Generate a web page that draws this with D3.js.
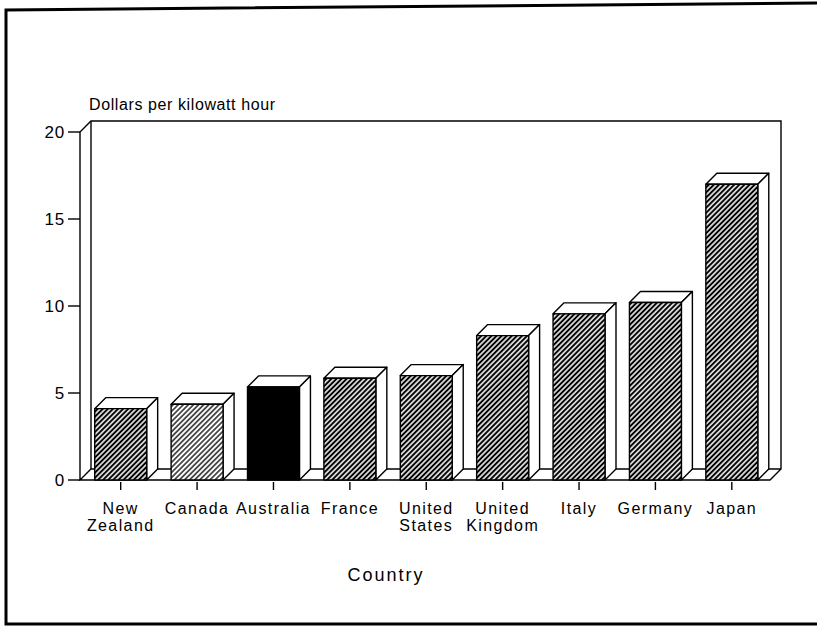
<!DOCTYPE html>
<html>
<head>
<meta charset="utf-8">
<script src="https://cdn.jsdelivr.net/npm/d3@7"></script>
<style>
  html, body { margin: 0; padding: 0; background: #fff; }
  svg { display: block; }
  text { font-family: "Liberation Sans", Arial, Helvetica, sans-serif; fill: #000; }
</style>
</head>
<body>
<svg id="chart" width="817" height="626"></svg>
<script>
// Electricity cost by country, dollars per kilowatt hour
const countries = ["New Zealand", "Canada", "Australia", "France", "United States",
                   "United Kingdom", "Italy", "Germany", "Japan"];
const countryLabels = [["New", "Zealand"], ["Canada"], ["Australia"], ["France"],
                       ["United", "States"], ["United", "Kingdom"], ["Italy"], ["Germany"], ["Japan"]];
const costs = [4.1, 4.35, 5.35, 5.85, 6.0, 8.3, 9.55, 10.2, 17.0];
const yTicks = [0, 5, 10, 15, 20];
const yTitle = "Dollars per kilowatt hour";
const xTitle = "Country";

const svg = d3.select("#chart");

// depth offset of the pseudo-3D box and bars
const DX = 11, DY = 11;

const x = d3.scaleBand().domain(countries).range([82.5, 770]).paddingInner(0.32).paddingOuter(0.16);
const y = d3.scaleLinear().domain([0, 20]).range([480, 132]);

const defs = svg.append("defs");
function hatch(id, w) {
  const p = defs.append("pattern").attr("id", id)
    .attr("patternUnits", "userSpaceOnUse").attr("width", 3.6).attr("height", 3.6)
    .attr("patternTransform", "rotate(45)");
  p.append("rect").attr("width", 3.6).attr("height", 3.6).attr("fill", "#fff");
  p.append("line").attr("x1", 1.8).attr("x2", 1.8).attr("y1", -1).attr("y2", 5)
    .attr("stroke", "#000").attr("stroke-width", w);
}
hatch("hatchDark", 2.1);
hatch("hatchLight", 1.3);

function barFill(c) {
  if (c === "Australia") return "#000";
  if (c === "Canada") return "url(#hatchLight)";
  return "url(#hatchDark)";
}

// page frame: left, top and bottom edges
svg.append("path")
  .attr("d", "M817,624 L6,624 L6,10 L817,3")
  .attr("fill", "none").attr("stroke", "#000").attr("stroke-width", 3);

const x0 = x.range()[0] - 2.5, x1 = x.range()[1];
const y0 = y(0), yTop = y(20);

// box: back wall, right wall and floor
const box = svg.append("g").attr("fill", "none").attr("stroke", "#000").attr("stroke-width", 1.4);
box.append("path").attr("d",
  `M${x0},${y0} L${x0},${yTop} L${x0 + DX},${yTop - DY} L${x1 + DX},${yTop - DY} L${x1 + DX},${y0 - DY} ` +
  `L${x1},${y0} L${x0},${y0} L${x0 + DX},${y0 - DY} L${x1 + DX},${y0 - DY}`);
box.append("line").attr("x1", x0 + DX).attr("x2", x0 + DX).attr("y1", yTop - DY).attr("y2", y0 - DY);

// y axis ticks and labels
const yAxis = svg.append("g");
yAxis.selectAll("line").data(yTicks).join("line")
  .attr("x1", x0 - 12).attr("x2", x0).attr("y1", d => y(d)).attr("y2", d => y(d))
  .attr("stroke", "#000").attr("stroke-width", 1.4);
yAxis.selectAll("text").data(yTicks).join("text")
  .attr("x", x0 - 15).attr("y", d => y(d)).attr("dy", "0.36em")
  .attr("text-anchor", "end").attr("font-size", 17).attr("letter-spacing", 0.8)
  .text(d => d);

svg.append("text").attr("x", x0 + 9).attr("y", 110)
  .attr("font-size", 16).attr("letter-spacing", 0.6).text(yTitle);

// bars
const data = countries.map((c, i) => ({ c, v: costs[i], lines: countryLabels[i] }));
const bw = x.bandwidth();
const bars = svg.append("g").attr("stroke", "#000").attr("stroke-width", 1.4).attr("stroke-linejoin", "round");
const g = bars.selectAll("g").data(data).join("g");
g.append("path").attr("fill", "#fff").attr("d", d => {
  const bx = x(d.c), yv = y(d.v);
  return `M${bx},${yv} L${bx + DX},${yv - DY} L${bx + bw + DX},${yv - DY} L${bx + bw},${yv} Z`;
});
g.append("path").attr("fill", "#fff").attr("d", d => {
  const bx = x(d.c) + bw, yv = y(d.v);
  return `M${bx},${yv} L${bx + DX},${yv - DY} L${bx + DX},${y0 - DY} L${bx},${y0} Z`;
});
g.append("rect").attr("x", d => x(d.c)).attr("y", d => y(d.v))
  .attr("width", bw).attr("height", d => y0 - y(d.v))
  .attr("fill", d => barFill(d.c));

// x ticks and category labels
const xAxis = svg.append("g");
xAxis.selectAll("line").data(data).join("line")
  .attr("x1", d => x(d.c) + bw / 2).attr("x2", d => x(d.c) + bw / 2)
  .attr("y1", y0 + 2).attr("y2", y0 + 10)
  .attr("stroke", "#000").attr("stroke-width", 1.4);
const lbl = xAxis.selectAll("text").data(data).join("text")
  .attr("text-anchor", "middle").attr("font-size", 16).attr("letter-spacing", 1.4);
lbl.selectAll("tspan").data(d => d.lines.map(t => ({ t, cx: x(d.c) + bw / 2 }))).join("tspan")
  .attr("x", d => d.cx).attr("y", (d, i) => 514 + i * 17).text(d => d.t);

svg.append("text").attr("x", 386).attr("y", 581).attr("text-anchor", "middle")
  .attr("font-size", 18).attr("letter-spacing", 2).text(xTitle);
</script>
</body>
</html>
